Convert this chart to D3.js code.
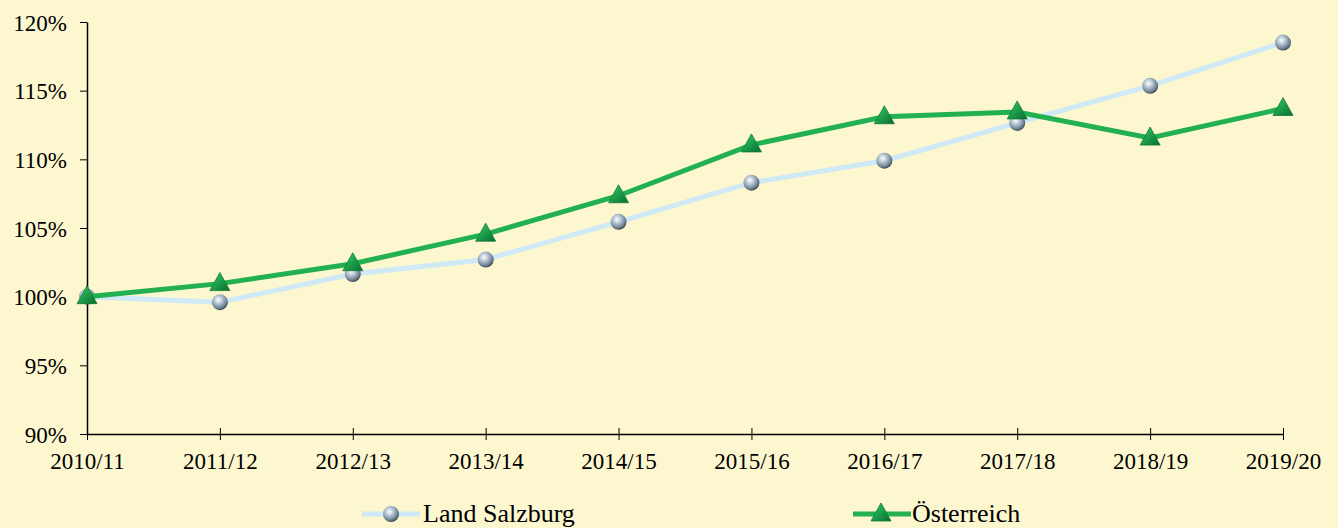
<!DOCTYPE html>
<html>
<head>
<meta charset="utf-8">
<script src="https://cdn.jsdelivr.net/npm/d3@7"></script>
<style>
  body { margin: 0; background: #fdf7cf; }
  svg { display: block; }
</style>
</head>
<body>
<div id="graph-container"></div>
<script>
// Data
const years = ["2010/11", "2011/12", "2012/13", "2013/14", "2014/15",
               "2015/16", "2016/17", "2017/18", "2018/19", "2019/20"];
const salzburg = [100, 99.6, 101.65, 102.7, 105.45, 108.3, 109.9, 112.65, 115.35, 118.5];
const oesterreich = [100, 100.95, 102.4, 104.55, 107.35, 111.05, 113.1, 113.45, 111.55, 113.7];
const yTicks = [90, 95, 100, 105, 110, 115, 120];
const seriesNames = ["Land Salzburg", "Österreich"];

const W = 1338, H = 528;
const serif = "'Liberation Serif', 'Times New Roman', serif";

const x = d3.scalePoint()
    .domain(years)
    .range([87, 1283]);

const y = d3.scaleLinear()
    .domain([90, 120])
    .range([434, 22]);

const svg = d3.select("#graph-container")
  .append("svg")
    .attr("width", W)
    .attr("height", H)
    .style("font-family", serif);

svg.append("rect").attr("width", W).attr("height", H).attr("fill", "#fdf7cf");

// gradients for the markers
const defs = svg.append("defs");
const ball = defs.append("radialGradient")
    .attr("id", "ball").attr("cx", "40%").attr("cy", "35%").attr("r", "65%");
ball.append("stop").attr("offset", "0%").attr("stop-color", "#ffffff");
ball.append("stop").attr("offset", "35%").attr("stop-color", "#bccbd8");
ball.append("stop").attr("offset", "80%").attr("stop-color", "#6f8294");
ball.append("stop").attr("offset", "100%").attr("stop-color", "#3f4c58");

const tri = defs.append("linearGradient")
    .attr("id", "tri").attr("x1", "0%").attr("y1", "0%").attr("x2", "100%").attr("y2", "100%");
tri.append("stop").attr("offset", "0%").attr("stop-color", "#3ccf6a");
tri.append("stop").attr("offset", "55%").attr("stop-color", "#1a9a48");
tri.append("stop").attr("offset", "100%").attr("stop-color", "#0b6a30");

// y axis
const yAxis = svg.append("g")
    .attr("transform", "translate(87,0)")
    .call(d3.axisLeft(y)
        .tickValues(yTicks)
        .tickSize(7)
        .tickSizeOuter(0)
        .tickPadding(13)
        .tickFormat(d => d + "%"));
yAxis.attr("font-family", serif);
yAxis.selectAll("text").attr("font-size", 23).attr("fill", "#000").attr("dy", "0.36em");
yAxis.select(".domain").attr("stroke", "#000").attr("stroke-width", 1.5);

// x axis, ticks cross the line
const xAxis = svg.append("g")
    .attr("transform", "translate(0,434)")
    .call(d3.axisBottom(x)
        .tickSize(6)
        .tickSizeOuter(0)
        .tickPadding(13));
xAxis.attr("font-family", serif);
xAxis.selectAll(".tick line").attr("y1", -6).attr("stroke", "#000");
xAxis.selectAll("text").attr("font-size", 23).attr("fill", "#000");
xAxis.select(".domain").attr("stroke", "#000").attr("stroke-width", 1.5);

const line = d3.line()
    .x((d, i) => x(years[i]))
    .y(d => y(d));

// Salzburg line (drawn first, under)
svg.append("path")
    .datum(salzburg)
    .attr("fill", "none")
    .attr("stroke", "#cfe9f6")
    .attr("stroke-width", 5)
    .attr("d", line);

svg.selectAll(".ball")
  .data(salzburg)
  .join("circle")
    .attr("class", "ball")
    .attr("cx", (d, i) => x(years[i]))
    .attr("cy", d => y(d))
    .attr("r", 8)
    .attr("fill", "url(#ball)");

// Österreich line
svg.append("path")
    .datum(oesterreich)
    .attr("fill", "none")
    .attr("stroke", "#22b050")
    .attr("stroke-width", 5)
    .attr("d", line);

const triPath = "M0,-11 L10,7 L-10,7 Z";
svg.selectAll(".tri")
  .data(oesterreich)
  .join("path")
    .attr("class", "tri")
    .attr("transform", (d, i) => `translate(${x(years[i])},${y(d)})`)
    .attr("d", triPath)
    .attr("fill", "url(#tri)")
    .attr("stroke", "#0f7a38")
    .attr("stroke-width", 0.8);

// Legend
const legend = svg.append("g");
const l1 = legend.append("g").attr("transform", "translate(362,514)");
l1.append("line").attr("x1", 0).attr("x2", 58).attr("stroke", "#cfe9f6").attr("stroke-width", 5);
l1.append("circle").attr("cx", 29).attr("r", 8).attr("fill", "url(#ball)");
l1.append("text").attr("x", 61).attr("y", 8).attr("font-size", 26).text(seriesNames[0]);

const l2 = legend.append("g").attr("transform", "translate(853,514)");
l2.append("line").attr("x1", 0).attr("x2", 58).attr("stroke", "#22b050").attr("stroke-width", 5);
l2.append("path").attr("transform", "translate(28,0)").attr("d", triPath)
    .attr("fill", "url(#tri)").attr("stroke", "#0f7a38").attr("stroke-width", 0.8);
l2.append("text").attr("x", 59).attr("y", 8).attr("font-size", 26).text(seriesNames[1]);
</script>
</body>
</html>
